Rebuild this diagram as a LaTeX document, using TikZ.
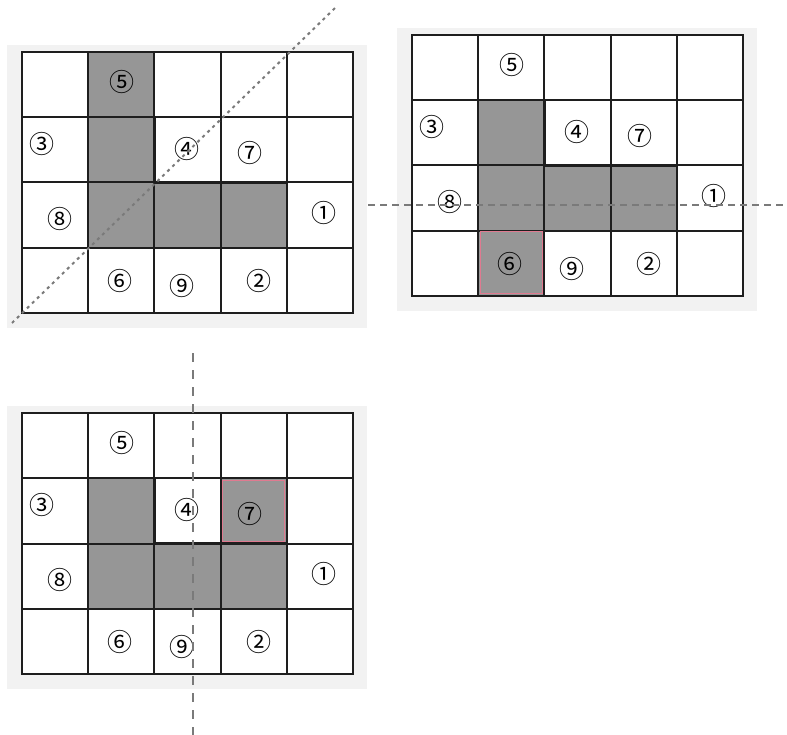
\documentclass[tikz,border=0pt]{standalone}
\usepackage{fontspec}
\newfontfamily\circfont{Noto Sans CJK JP}

\definecolor{cellgray}{HTML}{969696}
\definecolor{panelbg}{HTML}{F2F2F2}
\definecolor{gridcol}{HTML}{1E1E1E}
\definecolor{pinkline}{HTML}{E07A90}
\definecolor{axisgray}{HTML}{7A7A7A}

% one 5x4 board: #1 name prefix, #2 shaded cells (col/row)
\newcommand{\gridpanel}[2]{%
  \fill[panelbg] (-15,-7) rectangle (345,276);
  \fill[white] (0,0) rectangle (331,261);
  \foreach \c/\r in {#2}
    \fill[cellgray] (\c*66.2,\r*65.25) rectangle ++(66.2,65.25);
  \foreach \c in {0,...,5}
    \draw[gridline] (\c*66.2,0) -- (\c*66.2,261);
  \foreach \r in {0,...,4}
    \draw[gridline] (0,\r*65.25) -- (331,\r*65.25);
  \draw[blockline] (66.2,65.25) -- (132.4,65.25) -- (132.4,130.5) -- (264.8,130.5)
    -- (264.8,195.75) -- (66.2,195.75) -- cycle;
  \foreach \n/\lx/\ly/\t in {5/100/30/⑤, 3/20/92/③, 4/165/97/④, 7/228/101/⑦,
      8/38/167/⑧, 1/302/161/①, 6/98/229/⑥, 9/160/234/⑨, 2/237/229/②}
    \node[numlabel] (#1-\n) at (\lx,\ly) {\t};
}

\begin{document}
\begin{tikzpicture}[x=1pt,y=-1pt]

    \tikzset{
      gridline/.style={draw=gridcol, line width=2pt, line cap=rect},
      blockline/.style={draw=gridcol, line width=2.4pt, line join=miter},
      numlabel/.style={inner sep=0pt, font=\circfont\fontsize{25}{25}\selectfont},
      pinkbox/.style={draw=pinkline, line width=1pt},
      axis/.style={draw=axisgray, line width=2pt}
    }

    \useasboundingbox[fill=white] (0,0) rectangle (787,735);

    % Board A: diagonal axis
    \begin{scope}[shift={(22,52)}]
      \gridpanel{a}{1/0, 1/1, 1/2, 2/2, 3/2}
    \end{scope}

    % Board B: horizontal axis
    \begin{scope}[shift={(412,35)}]
      \gridpanel{b}{1/1, 1/2, 2/2, 3/2, 1/3}
      \draw[pinkbox] (68,197) rectangle (130.4,259);
    \end{scope}

    % Board C: vertical axis
    \begin{scope}[shift={(22,413)}]
      \gridpanel{c}{1/1, 1/2, 2/2, 3/2, 3/1}
      \draw[pinkbox] (200,67) rectangle (262.8,128.5);
    \end{scope}

    % Symmetry axes
    \coordinate (diagA) at (12,323);
    \coordinate (diagB) at (335,8);
    \coordinate (horA) at (368,205);
    \coordinate (horB) at (787,205);
    \coordinate (verA) at (193,353);
    \coordinate (verB) at (193,735);
    \draw[axis, dash pattern=on 3pt off 4pt] (diagA) -- (diagB);
    \draw[axis, dash pattern=on 7pt off 5pt] (horA) -- (horB);
    \draw[axis, dash pattern=on 9pt off 8pt] (verA) -- (verB);

\end{tikzpicture}
\end{document}
